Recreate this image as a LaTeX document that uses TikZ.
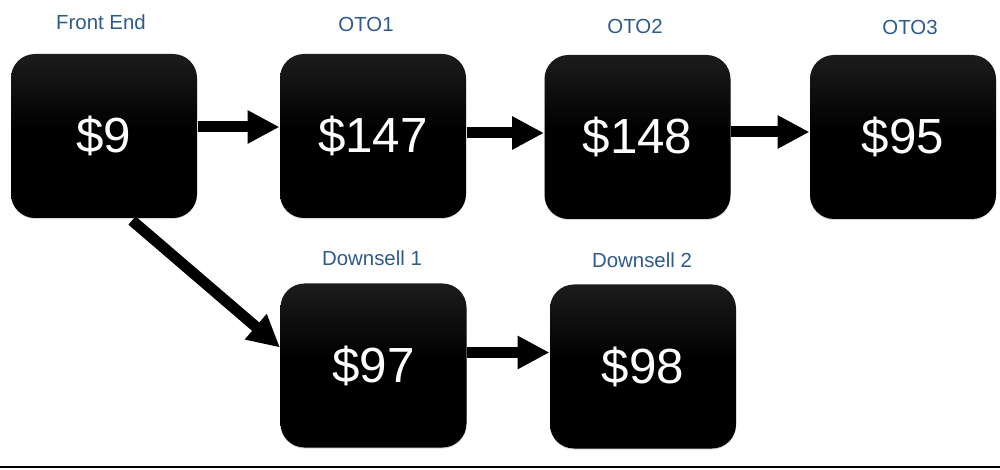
\documentclass[tikz,border=0pt]{standalone}
\usepackage{fontspec}
\setmainfont{Liberation Sans}
\usetikzlibrary{arrows.meta,calc,shadows}

\definecolor{labelblue}{RGB}{46,90,140}
\pgfdeclareverticalshading{boxshade}{100bp}{color(0bp)=(black); color(52bp)=(black); color(100bp)=(black!77)}

\tikzset{every picture/.style={line width=0.75pt}}
\tikzset{
  pricebox/.style={rounded corners=18pt, minimum width=139.5pt, minimum height=123pt,
    shading=boxshade, draw=none,
    text=white, font=\fontsize{37}{40}\selectfont,
    drop shadow={shadow xshift=0pt, shadow yshift=-0.8pt, opacity=0.3}},
  steplabel/.style={text=labelblue, font=\fontsize{15.3}{18}\selectfont, inner sep=0.75pt},
  flowarrow/.style={line width=8.25pt, -{Triangle[length=24pt,width=23.5pt]}}
}

\begin{document}
\begin{tikzpicture}[x=0.75pt,y=0.75pt,yscale=-1,xscale=1]
\useasboundingbox (0,0) rectangle (1000,470);

%Shape: Rounded Rectangle [id:fe]
\node [pricebox] (fe) at (104,136) {\$9};
%Shape: Rounded Rectangle [id:oto1]
\node [pricebox] (oto1) at (373,136) {\$147};
%Shape: Rounded Rectangle [id:oto2]
\node [pricebox] (oto2) at (637.5,137) {\$148};
%Shape: Rounded Rectangle [id:oto3]
\node [pricebox] (oto3) at (903,137) {\$95};
%Shape: Rounded Rectangle [id:ds1]
\node [pricebox] (ds1) at (373.5,365.5) {\$97};
%Shape: Rounded Rectangle [id:ds2]
\node [pricebox] (ds2) at (643,366.5) {\$98};

%Straight Lines [id:fe-oto1]
\draw [flowarrow] ($(fe.east)+(0,-9)$) -- ($(oto1.west)+(0,-9)$);
%Straight Lines [id:oto1-oto2]
\draw [flowarrow] ($(oto1.east)+(0,-3)$) -- ($(oto2.west)+(0,-4)$);
%Straight Lines [id:oto2-oto3]
\draw [flowarrow] ($(oto2.east)+(0,-5)$) -- ($(oto3.west)+(0,-5)$);
%Straight Lines [id:fe-ds1]
\draw [flowarrow] ($(fe.south)+(28,2)$) -- ($(ds1.west)+(0,-18)$);
%Straight Lines [id:ds1-ds2]
\draw [flowarrow] ($(ds1.east)+(0,-13)$) -- ($(ds2.west)+(0,-14)$);

%Straight Lines [id:baseline]
\draw [line width=1.5pt] (0,467) -- (1000,467);

% Text Node
\node [steplabel] (felabel) at (101,22) {Front End};
% Text Node
\node [steplabel] (oto1label) at (366,24) {OTO1};
% Text Node
\node [steplabel] (oto2label) at (635,26) {OTO2};
% Text Node
\node [steplabel] (oto3label) at (910,27) {OTO3};
% Text Node
\node [steplabel] (ds1label) at (372,258) {Downsell 1};
% Text Node
\node [steplabel] (ds2label) at (642,260) {Downsell 2};

\end{tikzpicture}
\end{document}
